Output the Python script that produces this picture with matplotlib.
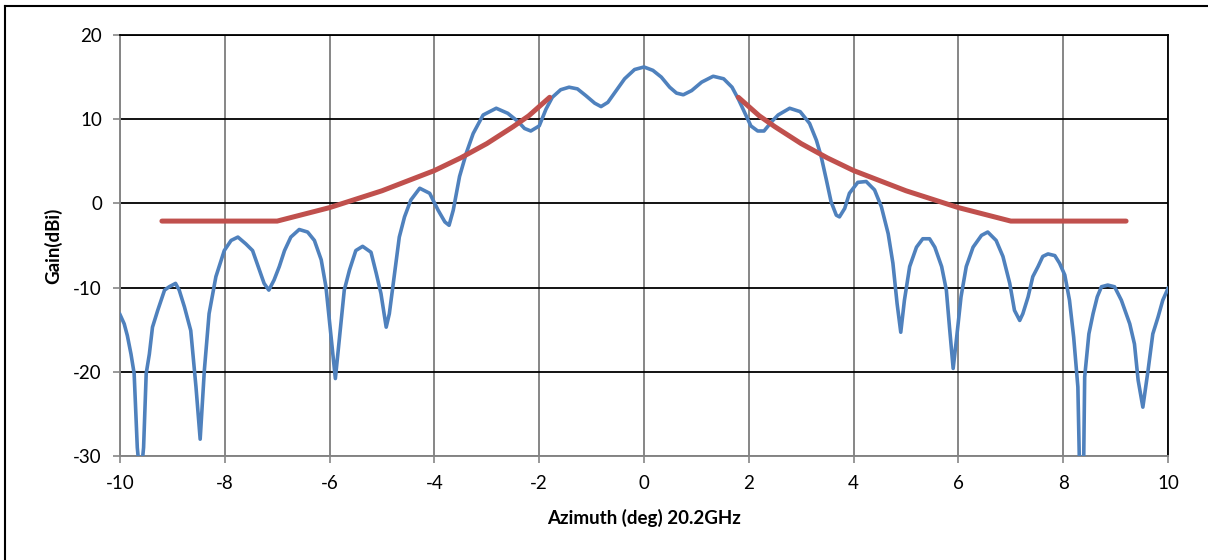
import matplotlib
matplotlib.use("Agg")
import numpy as np
from matplotlib import pyplot as plt
from matplotlib.lines import Line2D

azimuth = [-10.0, -9.92, -9.86, -9.79, -9.73, -9.67, -9.64, -9.58, -9.55, -9.50,
           -9.44, -9.38, -9.28, -9.15, -9.06, -8.94, -8.87, -8.77, -8.65, -8.55,
           -8.47, -8.39, -8.30, -8.17, -8.01, -7.88, -7.75, -7.60, -7.47, -7.34,
           -7.25, -7.16, -7.06, -6.96, -6.86, -6.74, -6.58, -6.42, -6.29, -6.16,
           -6.07, -5.97, -5.89, -5.81, -5.72, -5.62, -5.50, -5.37, -5.21, -5.11,
           -5.02, -4.92, -4.86, -4.76, -4.67, -4.57, -4.45, -4.28, -4.09, -3.93,
           -3.80, -3.72, -3.64, -3.52, -3.39, -3.26, -3.07, -2.82, -2.60, -2.40,
           -2.28, -2.16, -2.0, -1.87, -1.75, -1.59, -1.43, -1.27, -1.11, -0.94,
           -0.82, -0.69, -0.53, -0.37, -0.18, 0.0, 0.17, 0.33, 0.49, 0.62,
           0.75, 0.91, 1.10, 1.32, 1.52, 1.68, 1.80, 1.92, 2.04, 2.17,
           2.29, 2.45, 2.56, 2.78, 2.98, 3.16, 3.29,
           3.38, 3.48, 3.57, 3.67, 3.73, 3.83, 3.92, 4.08, 4.24, 4.40,
           4.53, 4.66, 4.75, 4.83, 4.90, 4.97, 5.07, 5.20, 5.32, 5.45,
           5.55, 5.68, 5.77, 5.83, 5.90, 5.96, 6.05, 6.15, 6.28, 6.44,
           6.56, 6.72, 6.85, 6.98, 7.07, 7.17, 7.23, 7.33, 7.42, 7.52,
           7.61, 7.71, 7.84, 7.93, 8.03, 8.12, 8.20, 8.28, 8.31, 8.39,
           8.41, 8.49, 8.57, 8.65, 8.73, 8.85, 8.98, 9.11, 9.27, 9.36,
           9.43, 9.52, 9.62, 9.71, 9.81, 9.90, 10.0]
gain = [-13.2, -14.3, -15.7, -17.9, -20.2, -29.0, -31.0, -31.0, -29.0, -20.2,
        -17.9, -14.7, -12.7, -10.3, -9.9, -9.5, -10.3, -12.3, -15.1, -21.8,
        -28.0, -19.8, -13.1, -8.7, -5.6, -4.4, -4.0, -4.8, -5.6, -7.9,
        -9.5, -10.3, -9.1, -7.5, -5.6, -4.0, -3.1, -3.4, -4.4, -6.7,
        -9.9, -15.9, -20.8, -15.9, -10.3, -7.9, -5.6, -5.1, -5.8, -8.3,
        -10.7, -14.7, -13.1, -8.3, -4.0, -1.6, 0.4, 1.8, 1.2, -0.8,
        -2.2, -2.6, -0.8, 3.2, 6.0, 8.3, 10.5, 11.3, 10.7, 9.7,
        8.9, 8.6, 9.2, 11.2, 12.6, 13.5, 13.8, 13.6, 12.8, 11.9,
        11.5, 12.0, 13.4, 14.8, 15.9, 16.2, 15.8, 15.0, 13.8, 13.1,
        12.9, 13.4, 14.4, 15.1, 14.8, 13.8, 12.4, 10.8, 9.2, 8.6,
        8.6, 9.8, 10.5, 11.3, 10.9, 9.5, 7.5,
        5.6, 2.8, 0.2, -1.4, -1.6, -0.6, 1.2, 2.5, 2.6, 1.6,
        -0.4, -3.6, -7.1, -11.9, -15.3, -11.5, -7.5, -5.2, -4.2, -4.2,
        -5.2, -7.5, -10.3, -14.7, -19.6, -16.3, -11.1, -7.5, -5.2, -3.8,
        -3.4, -4.4, -6.3, -9.5, -12.7, -13.9, -13.1, -11.1, -8.7, -7.5,
        -6.3, -6.0, -6.2, -7.1, -8.5, -11.5, -15.9, -21.8, -31.0, -31.0,
        -20.6, -15.5, -13.1, -11.1, -9.9, -9.7, -9.9, -11.5, -14.3, -16.7,
        -21.0, -24.2, -19.8, -15.5, -13.5, -11.5, -10.1]

# sidelobe mask (same on both sides of boresight)
mask_theta = [1.8, 2.0, 2.2, 2.5, 3.0, 3.5, 4.0, 4.5, 5.0, 5.5, 6.0, 6.5, 7.0, 9.2]
mask_gain = [12.6, 11.5, 10.4, 9.1, 7.1, 5.4, 3.9, 2.7, 1.5, 0.5, -0.5, -1.3, -2.1, -2.1]

xticks = [-10, -8, -6, -4, -2, 0, 2, 4, 6, 8, 10]
yticks = [-30, -20, -10, 0, 10, 20]

plt.rcParams['font.family'] = ['Lato', 'DejaVu Sans']
plt.rcParams['axes.unicode_minus'] = False

fig = plt.figure(figsize=(12.08, 5.6), dpi=100)
ax = fig.add_axes([120/1208, 1-456/560, 1048/1208, 421/560])

for t in xticks:
    ax.axvline(t, color='#868686', lw=1.4, zorder=1)
for t in yticks:
    ax.axhline(t, color='black', lw=1.3, zorder=1)

ax.plot(azimuth, gain, color='#4F81BD', lw=2.6, solid_joinstyle='round', zorder=3)
th = np.array(mask_theta)
ax.plot(-th, mask_gain, color='#C0504D', lw=3.6, solid_capstyle='round', zorder=4)
ax.plot(th, mask_gain, color='#C0504D', lw=3.6, solid_capstyle='round', zorder=4)

ax.set_xlim(-10, 10)
ax.set_ylim(-30, 20)
ax.set_xticks(xticks)
ax.set_yticks(yticks)
ax.tick_params(axis='both', direction='out', length=5, width=1.2, color='#868686',
               labelsize=13.5)
ax.tick_params(axis='y', pad=8)
ax.tick_params(axis='x', pad=9)
for s in ['left', 'bottom']:
    ax.spines[s].set_color('#868686')
    ax.spines[s].set_linewidth(1.4)
for s in ['top', 'right']:
    ax.spines[s].set_color('black')
    ax.spines[s].set_linewidth(1.3)

fig.text(644/1208, 1-518/560, 'Azimuth (deg) 20.2GHz', ha='center', va='center',
         fontsize=13.5, fontweight='bold')
fig.text(53/1208, 1-246/560, 'Gain(dBi)', ha='center', va='center', rotation=90,
         fontsize=13.5, fontweight='bold')

# outer chart frame
fig.add_artist(Line2D([5/1208, 1], [1-6/560, 1-6/560], transform=fig.transFigure,
                      color='black', lw=1.5))
fig.add_artist(Line2D([5/1208, 5/1208], [0, 1-6/560], transform=fig.transFigure,
                      color='black', lw=1.5))

fig.savefig('out.png', dpi=100)
